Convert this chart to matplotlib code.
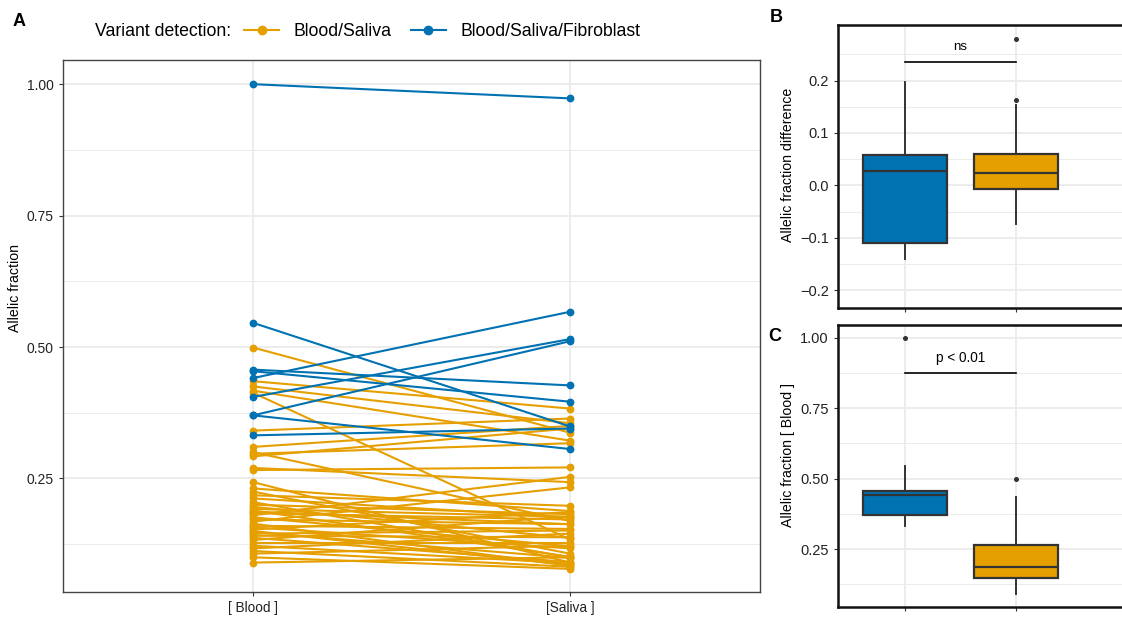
import matplotlib
matplotlib.use("Agg")
import matplotlib.pyplot as plt
from matplotlib.lines import Line2D
import numpy as np

plt.rcParams['font.family'] = ['Liberation Sans', 'DejaVu Sans']

# allelic fractions, one entry per variant
blue_blood = [1.000, 0.546, 0.457, 0.454, 0.441, 0.405, 0.370, 0.370, 0.332]
blue_saliva = [0.973, 0.349, 0.427, 0.396, 0.567, 0.515, 0.511, 0.306, 0.345]

orange_blood = [0.499, 0.435, 0.425, 0.417, 0.413, 0.341, 0.310, 0.300, 0.297, 0.292,
                0.270, 0.266,
                0.090, 0.100, 0.107, 0.112, 0.117, 0.122, 0.128, 0.133, 0.137, 0.141,
                0.145, 0.148, 0.150, 0.153, 0.157, 0.160, 0.164, 0.168, 0.172, 0.176,
                0.180, 0.184, 0.187, 0.189, 0.192, 0.196, 0.200, 0.205, 0.212, 0.218,
                0.225, 0.231, 0.243]
orange_saliva = [0.337, 0.383, 0.355, 0.322, 0.134, 0.364, 0.350, 0.169, 0.317, 0.345,
                 0.243, 0.271,
                 0.100, 0.078, 0.122, 0.082, 0.145, 0.089, 0.128, 0.178, 0.091, 0.138,
                 0.151, 0.099, 0.085, 0.186, 0.117, 0.154, 0.084, 0.233, 0.163, 0.121,
                 0.253, 0.172, 0.163, 0.101, 0.177, 0.137, 0.182, 0.100, 0.176, 0.198,
                 0.107, 0.188, 0.090]

tissues = ['[ Blood ]', '[Saliva ]']
groups = ['Blood/Saliva', 'Blood/Saliva/Fibroblast']
ORANGE = '#E69F00'
BLUE = '#0072B2'
GRID = '#EBEBEB'
DARK = '#333333'

W, H = 1122, 620
fig = plt.figure(figsize=(W / 100, H / 100), dpi=100)


def rect(l, t, r, b):
    return [l / W, 1 - b / H, (r - l) / W, (b - t) / H]


def style(ax, border_col, border_w):
    ax.set_facecolor('white')
    ax.grid(which='major', color=GRID, lw=1.3, zorder=0)
    ax.grid(which='minor', axis='y', color=GRID, lw=0.7, zorder=0)
    ax.set_axisbelow(True)
    for s in ax.spines.values():
        s.set_color(border_col)
        s.set_linewidth(border_w)
    ax.tick_params(axis='both', which='major', colors=DARK, labelcolor='#222222',
                   length=3, width=0.8)
    ax.tick_params(axis='both', which='minor', length=0)


# ---- panel A: paired lines
axA = fig.add_axes(rect(63, 60, 760, 592))
for b, s in zip(orange_blood, orange_saliva):
    axA.plot([1, 2], [b, s], color=ORANGE, lw=1.5, marker='o', ms=4.6, zorder=3)
for b, s in zip(blue_blood, blue_saliva):
    axA.plot([1, 2], [b, s], color=BLUE, lw=1.5, marker='o', ms=4.6, zorder=4)
axA.set_xlim(0.4, 2.6)
axA.set_ylim(0.034, 1.046)
axA.set_xticks([1, 2])
axA.set_xticklabels(tissues, fontsize=9.8)
axA.set_yticks([0.25, 0.50, 0.75, 1.00])
axA.set_yticklabels(['0.25', '0.50', '0.75', '1.00'], fontsize=10)
axA.set_yticks([0.125, 0.375, 0.625, 0.875], minor=True)
style(axA, '#444444', 1.0)
fig.text(15 / W, 1 - 288 / H, 'Allelic fraction', rotation=90, fontsize=10.2,
         ha='center', va='center')


# ---- boxplot helper for B and C
def boxes(ax, data):
    bp = ax.boxplot(data, positions=[1, 2], widths=0.75, patch_artist=True,
                    showcaps=False,
                    medianprops=dict(color=DARK, lw=1.6, zorder=5),
                    whiskerprops=dict(color=DARK, lw=1.4),
                    boxprops=dict(edgecolor=DARK, lw=1.6),
                    flierprops=dict(marker='o', ms=2.6, markerfacecolor=DARK,
                                    markeredgecolor=DARK))
    for patch, col in zip(bp['boxes'], [BLUE, ORANGE]):
        patch.set_facecolor(col)
        patch.set_zorder(3)
    ax.set_xlim(1 - 67 / 111, 2 + 106 / 111)
    ax.set_xticks([1, 2])
    ax.set_xticklabels(['', ''])
    ax.spines['right'].set_visible(False)


# ---- panel B: difference blood - saliva
diff_blue = np.array(blue_blood) - np.array(blue_saliva)
diff_orange = np.array(orange_blood) - np.array(orange_saliva)
axB = fig.add_axes(rect(838, 25, W, 308))
boxes(axB, [diff_blue, diff_orange])
axB.set_ylim(-0.234, 0.306)
axB.set_yticks([-0.2, -0.1, 0.0, 0.1, 0.2])
axB.set_yticklabels(['\u22120.2', '\u22120.1', '0.0', '0.1', '0.2'], fontsize=10.5)
axB.set_yticks([-0.15, -0.05, 0.05, 0.15, 0.25], minor=True)
style(axB, '#111111', 1.8)
axB.plot([1, 2], [0.236, 0.236], color='black', lw=1.2)
axB.text(1.5, 0.252, 'ns', ha='center', va='bottom', fontsize=9.5)
fig.text(788 / W, 1 - 165 / H, 'Allelic fraction difference', rotation=90,
         fontsize=10.2, ha='center', va='center')

# ---- panel C: blood fraction per group
axC = fig.add_axes(rect(838, 325, W, 607))
boxes(axC, [blue_blood, orange_blood])
axC.set_ylim(0.0445, 1.0455)
axC.set_yticks([0.25, 0.50, 0.75, 1.00])
axC.set_yticklabels(['0.25', '0.50', '0.75', '1.00'], fontsize=10.5)
axC.set_yticks([0.125, 0.375, 0.625, 0.875], minor=True)
style(axC, '#111111', 1.8)
axC.plot([1, 2], [0.875, 0.875], color='black', lw=1.2)
axC.text(1.5, 0.905, 'p < 0.01', ha='center', va='bottom', fontsize=9.8)
fig.text(788 / W, 1 - 455 / H, 'Allelic fraction [ Blood ]', rotation=90,
         fontsize=10.2, ha='center', va='center')

# ---- legend and panel letters
fig.text(95 / W, 1 - 32 / H, 'Variant detection:', fontsize=12.7, va='center')
handles = [Line2D([0], [0], color=ORANGE, lw=1.5, marker='o', ms=6),
           Line2D([0], [0], color=BLUE, lw=1.5, marker='o', ms=6)]
fig.legend(handles, groups, ncol=2, loc='center left', frameon=False,
           bbox_to_anchor=(228 / W, 1 - 32 / H), fontsize=12.7,
           handlelength=2.0, columnspacing=1.1, handletextpad=0.8)

fig.text(13 / W, 1 - 22 / H, 'A', fontsize=13, fontweight='bold', va='center')
fig.text(770 / W, 1 - 18 / H, 'B', fontsize=13, fontweight='bold', va='center')
fig.text(768 / W, 1 - 336 / H, 'C', fontsize=13, fontweight='bold', va='center')

fig.savefig('out.png', dpi=100)
